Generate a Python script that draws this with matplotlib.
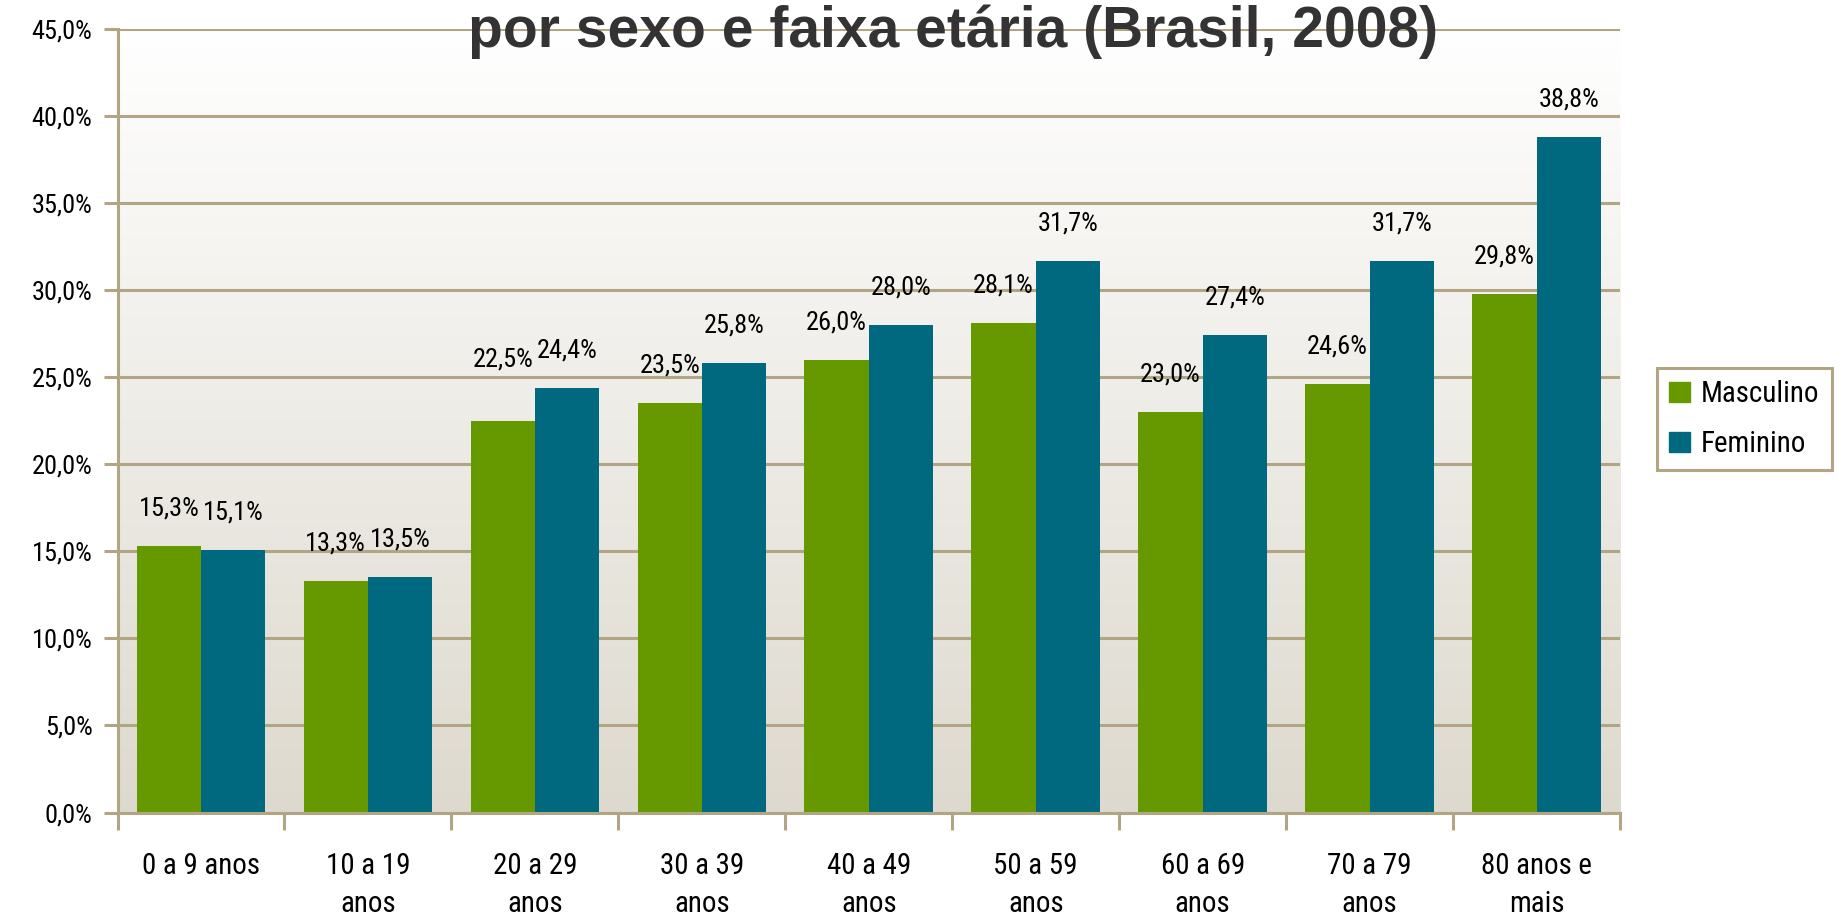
import numpy as np
import matplotlib
matplotlib.use('Agg')
import matplotlib.pyplot as plt
from matplotlib.patches import Patch
from matplotlib import font_manager

faixas = ['0 a 9 anos', '10 a 19\nanos', '20 a 29\nanos', '30 a 39\nanos', '40 a 49\nanos',
          '50 a 59\nanos', '60 a 69\nanos', '70 a 79\nanos', '80 anos e\nmais']
masculino = [15.3, 13.3, 22.5, 23.5, 26.0, 28.1, 23.0, 24.6, 29.8]
feminino = [15.1, 13.5, 24.4, 25.8, 28.0, 31.7, 27.4, 31.7, 38.8]
y_ticks = [0, 5, 10, 15, 20, 25, 30, 35, 40, 45]

verde = '#669900'
azul = '#006980'
bege = '#B1A584'

# fonte estreita, se houver
nomes = {f.name for f in font_manager.fontManager.ttflist}
condensadas = [f for f in font_manager.fontManager.ttflist
               if f.name == 'DejaVu Sans' and 'condensed' in str(f.stretch)]
if 'Liberation Sans Narrow' in nomes:
    fp = dict(family='Liberation Sans Narrow', size=20)
elif 'Roboto Condensed' in nomes:
    fp = dict(family='Roboto Condensed', size=19)
elif condensadas:
    fp = dict(family='DejaVu Sans', stretch='condensed', size=18)
else:
    fp = dict(family='Liberation Sans', size=16)
tam = fp['size']
prop = font_manager.FontProperties(**fp)
prop_g = prop.copy()
prop_g.set_size(tam * 1.1)

def pct(v):
    return f'{v:.1f}%'.replace('.', ',')

fig = plt.figure(figsize=(18.43, 9.19), dpi=100)
ax = fig.add_axes([117.5 / 1843, 106.5 / 919, (1620 - 117.5) / 1843, (812.5 - 29) / 919])

# fundo em degrade
grad = np.linspace(0, 1, 256).reshape(-1, 1)
cmap = matplotlib.colors.LinearSegmentedColormap.from_list('fundo', ['#FFFFFF', '#DDD9CE'])
ax.imshow(grad, aspect='auto', cmap=cmap, extent=[0, 1, 0, 1], transform=ax.transAxes, zorder=0)

x = np.arange(len(faixas))
w = 0.385
ax.bar(x - w / 2, masculino, w, color=verde, zorder=3, label='Masculino')
ax.bar(x + w / 2, feminino, w, color=azul, zorder=3, label='Feminino')

for i, v in enumerate(masculino):
    off = 44 if i == 2 else 27
    ax.annotate(pct(v), (x[i] - w / 2, v), xytext=(0, off), textcoords='offset points',
                ha='center', va='center', fontproperties=prop, zorder=4)
for i, v in enumerate(feminino):
    ax.annotate(pct(v), (x[i] + w / 2, v), xytext=(0, 27), textcoords='offset points',
                ha='center', va='center', fontproperties=prop, zorder=4)

ax.set_xlim(-0.5, len(faixas) - 0.5)
ax.set_ylim(0, 45)
ax.set_yticks(y_ticks)
ax.set_yticklabels([pct(v) for v in y_ticks], fontproperties=prop)
ax.set_xticks(x)
tam_px = tam * 1.1 * 100 / 72
ax.set_xticklabels(faixas, fontproperties=prop_g, linespacing=37 / (tam_px * 0.87))
ax.set_xticks(np.arange(len(faixas) + 1) - 0.5, minor=True)
ax.tick_params(axis='x', which='major', length=0, pad=(57 - tam_px * 0.6) * 0.72)
ax.tick_params(axis='x', which='minor', length=12, width=2.2, color=bege)
ax.tick_params(axis='y', length=10, width=2.2, color=bege, pad=8)

ax.grid(axis='y', color=bege, linewidth=2.2, zorder=1)
ax.set_axisbelow(True)
for s in ['top', 'right']:
    ax.spines[s].set_visible(False)
for s in ['left', 'bottom']:
    ax.spines[s].set_color(bege)
    ax.spines[s].set_linewidth(2.2)
    ax.spines[s].set_zorder(5)

fig.text(953 / 1843, 1 - 32 / 919, 'por sexo e faixa etária (Brasil, 2008)', ha='center', va='center',
         fontsize=41, fontweight='bold', color='#333333', family='Liberation Sans')

leg = fig.legend(handles=[Patch(color=verde, label='Masculino'), Patch(color=azul, label='Feminino')],
                 loc='upper left', bbox_to_anchor=(1657 / 1843, 1 - 368 / 919),
                 prop=prop_g, fancybox=False, framealpha=1,
                 handlelength=0.7, handleheight=0.7, handletextpad=0.4, labelspacing=0.75,
                 borderpad=0.42, borderaxespad=0)
leg.get_frame().set_edgecolor(bege)
leg.get_frame().set_linewidth(2.2)

fig.savefig('out.png', dpi=100)
